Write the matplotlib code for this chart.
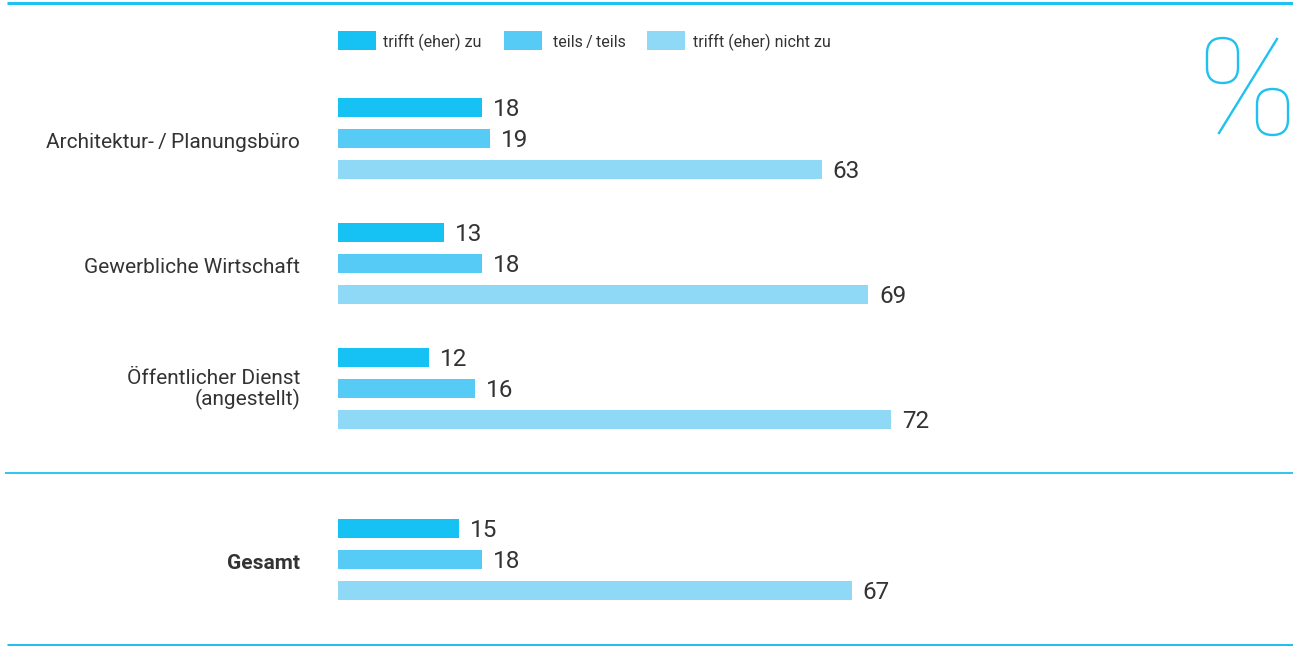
import matplotlib.pyplot as plt
from matplotlib.patches import FancyBboxPatch, Rectangle

W, H = 1293, 646

categories = ['Architektur-\u2009/\u2009Planungsbüro', 'Gewerbliche Wirtschaft',
              'Öffentlicher Dienst\n(angestellt)', 'Gesamt']
series = ['trifft (eher) zu', 'teils\u2009/\u2009teils', 'trifft (eher) nicht zu']
# printed values
zu = [18, 13, 12, 15]
teils = [19, 18, 16, 18]
nicht_zu = [63, 69, 72, 67]
# bar lengths as drawn in the original (unrounded)
zu_len = [18.75, 13.8, 11.85, 15.75]
teils_len = [19.8, 18.75, 17.8, 18.75]
nicht_zu_len = [63.0, 69.0, 72.0, 66.9]

colors = ['#16c2f3', '#56cbf5', '#8fd8f6']
line_col = '#1ec1ef'
text_col = '#333333'
fam = ['Roboto', 'DejaVu Sans']

# layout in pixels
group_top = [107, 232, 357, 528]
bar_step = 31
bar_h = 19
px_per_unit = 7.68
x0 = 338

fig = plt.figure(figsize=(W / 100, H / 100), dpi=100)

deco = fig.add_axes([0, 0, 1, 1])
deco.set_xlim(0, W)
deco.set_ylim(H, 0)
deco.axis('off')

ax = fig.add_axes([x0 / W, 0, 1 - x0 / W, 1])
ax.set_xlim(0, (W - x0) / px_per_unit)
ax.set_ylim(H, 0)
ax.axis('off')

for s, (vals, lens) in enumerate([(zu, zu_len), (teils, teils_len),
                                  (nicht_zu, nicht_zu_len)]):
    ys = [g + s * bar_step for g in group_top]
    ax.barh(ys, lens, height=bar_h, color=colors[s], linewidth=0)
    for y, v, l in zip(ys, vals, lens):
        ax.text(l + 11 / px_per_unit, y + 8.8, str(v), ha='left', va='baseline',
                fontsize=17.5, color=text_col, family=fam)

for i, cat in enumerate(categories):
    mid = group_top[i] + bar_step
    lines = cat.split('\n')
    n = len(lines)
    for k, ln in enumerate(lines):
        deco.text(300, mid + 10 - (n - 1) * 14 + k * 21, ln, ha='right',
                  va='baseline', fontsize=15, color=text_col, family=fam,
                  fontweight='bold' if cat == 'Gesamt' else 'normal')

# horizontal rules
deco.plot([7, W], [3, 3], color=line_col, lw=2.2, solid_capstyle='butt')
deco.plot([5, W], [473, 473], color=line_col, lw=1.3, solid_capstyle='butt')
deco.plot([7, W], [644.5, 644.5], color=line_col, lw=2.2, solid_capstyle='butt')

# legend
leg_box = [338, 504, 647]
leg_txt = [383, 553, 693]
for bx, tx, lab, c in zip(leg_box, leg_txt, series, colors):
    deco.add_patch(Rectangle((bx, 31), 38, 19, color=c, lw=0))
    deco.text(tx, 47, lab, ha='left', va='baseline', fontsize=11.5,
              color=text_col, family=fam)

# big percent sign
for (bx, by, bh) in [(1207, 38, 45), (1257, 89, 46)]:
    deco.add_patch(FancyBboxPatch((bx, by), 31, bh,
                                  boxstyle='round,pad=0,rounding_size=15.5',
                                  fill=False, edgecolor=line_col, lw=1.7))
deco.plot([1219, 1277], [133, 39], color=line_col, lw=1.7)

fig.savefig('out.png', dpi=100)
